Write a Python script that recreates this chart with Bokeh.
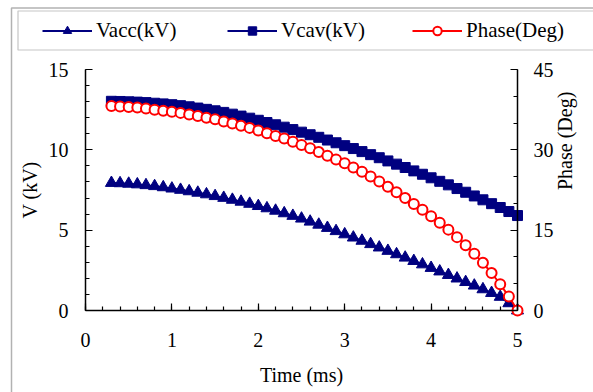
import math
from bokeh.plotting import figure
from bokeh.models import Range1d, LinearAxis, FixedTicker, Legend, LegendItem, BoxAnnotation
from bokeh.embed import file_html
from bokeh.resources import INLINE

time_ms = [0.3, 0.4, 0.5, 0.6, 0.7, 0.8, 0.9, 1.0, 1.1, 1.2, 1.3, 1.4, 1.5, 1.6, 1.7, 1.8,
           1.9, 2.0, 2.1, 2.2, 2.3, 2.4, 2.5, 2.6, 2.7, 2.8, 2.9, 3.0, 3.1, 3.2, 3.3, 3.4,
           3.5, 3.6, 3.7, 3.8, 3.9, 4.0, 4.1, 4.2, 4.3, 4.4, 4.5, 4.6, 4.7, 4.8, 4.9, 5.0]

vacc_kv = [7.94, 7.92, 7.89, 7.85, 7.80, 7.74, 7.67, 7.59, 7.51, 7.42, 7.33, 7.23, 7.12, 7.01, 6.89, 6.77,
           6.64, 6.50, 6.36, 6.21, 6.05, 5.89, 5.72, 5.53, 5.34, 5.14, 4.94, 4.74, 4.54, 4.34, 4.13, 3.92,
           3.71, 3.50, 3.29, 3.08, 2.87, 2.65, 2.43, 2.21, 1.99, 1.77, 1.55, 1.32, 1.09, 0.85, 0.45, 0.00]

vcav_kv = [13.02, 13.01, 12.99, 12.97, 12.94, 12.90, 12.86, 12.81, 12.75, 12.68, 12.60, 12.52, 12.43, 12.33, 12.22, 12.10,
           11.97, 11.84, 11.70, 11.56, 11.41, 11.26, 11.10, 10.94, 10.78, 10.61, 10.44, 10.26, 10.08, 9.89, 9.70, 9.51,
           9.31, 9.11, 8.90, 8.69, 8.48, 8.26, 8.04, 7.82, 7.59, 7.36, 7.13, 6.89, 6.65, 6.41, 6.16, 5.91]

phase_deg = [38.2, 38.1, 38.0, 37.9, 37.7, 37.5, 37.3, 37.1, 36.9, 36.6, 36.3, 36.0, 35.7, 35.3, 34.9, 34.5,
             34.1, 33.6, 33.1, 32.6, 32.1, 31.5, 30.9, 30.3, 29.6, 28.9, 28.2, 27.5, 26.7, 25.9, 25.0, 24.1,
             23.1, 22.1, 21.0, 19.9, 18.8, 17.6, 16.4, 15.1, 13.7, 12.2, 10.6, 8.9, 7.0, 4.9, 2.6, 0.0]

x_ticks = [0, 1, 2, 3, 4, 5]
v_ticks = [0, 5, 10, 15]
phase_ticks = [0, 15, 30, 45]

FONT = "Liberation Serif"
NAVY = "#000080"
RED = "#FF0000"

W, H = 593, 392
FL, FT = 9, 5                  # frame (chart area) origin in the canvas
PL, PR, PT, PB = 85, 517, 69, 310   # plot area edges in the canvas
X0, X1, V0, V1, P1 = 0.0, 5.0, 0.0, 15.0, 45.0
kx = (X1 - X0) / (PR - PL)
ky = (V1 - V0) / (PB - PT)
x_range = Range1d(X0 - (PL - FL) * kx, X1 + (W - PR) * kx)
y_range = Range1d(V0 - (H - PB) * ky, V1 + (PT - FT) * ky)
ph = P1 / V1
phase_range = Range1d(y_range.start * ph, y_range.end * ph)

p = figure(width=W, height=H, x_range=x_range, y_range=y_range,
           output_backend="svg", toolbar_location=None,
           min_border_left=FL, min_border_right=0, min_border_top=FT, min_border_bottom=0)
p.extra_y_ranges = {"phase": phase_range}
p.xgrid.visible = False
p.ygrid.visible = False
p.outline_line_color = None
p.background_fill_color = "white"
p.border_fill_color = "white"

def style_axis(ax, label, standoff, label_standoff):
    ax.axis_label = label
    ax.axis_label_text_font = FONT
    ax.axis_label_text_font_size = "20px"
    ax.axis_label_text_font_style = "normal"
    ax.axis_label_text_color = "black"
    ax.axis_label_standoff = label_standoff
    ax.major_label_text_font = FONT
    ax.major_label_text_font_size = "20px"
    ax.major_label_text_color = "black"
    ax.major_label_standoff = standoff
    ax.axis_line_color = "black"
    ax.axis_line_width = 1.5
    ax.major_tick_line_color = "black"
    ax.minor_tick_line_color = "black"
    ax.major_tick_line_width = 1.2
    ax.minor_tick_line_width = 1.2
    ax.major_tick_in = 7
    ax.major_tick_out = 0
    ax.minor_tick_in = 4
    ax.minor_tick_out = 0

xa = p.xaxis[0]
xa.ticker = FixedTicker(ticks=x_ticks, minor_ticks=[i * 0.2 for i in range(26)])
xa.fixed_location = V0
xa.bounds = (X0, X1)
style_axis(xa, "Time (ms)", 22, 14)

ya = p.yaxis[0]
ya.ticker = FixedTicker(ticks=v_ticks, minor_ticks=list(range(16)))
ya.fixed_location = X0
ya.bounds = (V0, V1)
style_axis(ya, "V (kV)", 17, 5)

ra = LinearAxis(y_range_name="phase")
ra.ticker = FixedTicker(ticks=phase_ticks, minor_ticks=list(range(0, 46, 5)))
ra.fixed_location = X1
ra.bounds = (0, P1)
style_axis(ra, "Phase (Deg)", 16, 8)
ra.axis_label_orientation = math.pi / 2
p.add_layout(ra, "right")

l1 = p.line(time_ms, vacc_kv, line_color=NAVY, line_width=2)
s1 = p.scatter(time_ms, vacc_kv, marker="triangle", size=12, fill_color=NAVY, line_color=NAVY)
l2 = p.line(time_ms, vcav_kv, line_color=NAVY, line_width=2)
s2 = p.scatter(time_ms, vcav_kv, marker="square", size=10, fill_color=NAVY, line_color=NAVY)
l3 = p.line(time_ms, phase_deg, line_color=RED, line_width=2, y_range_name="phase")
s3 = p.scatter(time_ms, phase_deg, marker="circle", size=10, fill_color="white", line_color=RED,
               line_width=2, y_range_name="phase")

outer = BoxAnnotation(left=11, right=2000, top=7.5, bottom=2000,
                      left_units="canvas", right_units="canvas", top_units="canvas", bottom_units="canvas",
                      fill_alpha=0, line_color="black", line_width=1.5)
legbox = BoxAnnotation(left=17.5, right=2000, top=10.5, bottom=49.5,
                       left_units="canvas", right_units="canvas", top_units="canvas", bottom_units="canvas",
                       fill_alpha=0, line_color="#404040", line_width=1.2)
p.add_layout(outer)
p.add_layout(legbox)

legend = Legend(items=[LegendItem(label="Vacc(kV)", renderers=[l1, s1]),
                       LegendItem(label="Vcav(kV)", renderers=[l2, s2]),
                       LegendItem(label="Phase(Deg)", renderers=[l3, s3])],
                orientation="horizontal", location=(44 - FL - 2, H - 43),
                border_line_color=None, background_fill_alpha=0,
                padding=8, spacing=11, glyph_width=50, glyph_height=21,
                label_width=120, label_height=21, label_standoff=4,
                label_text_font=FONT, label_text_font_size="21px", label_text_color="black")
p.add_layout(legend, "center")

open("out.html", "w").write(file_html(p, INLINE))
